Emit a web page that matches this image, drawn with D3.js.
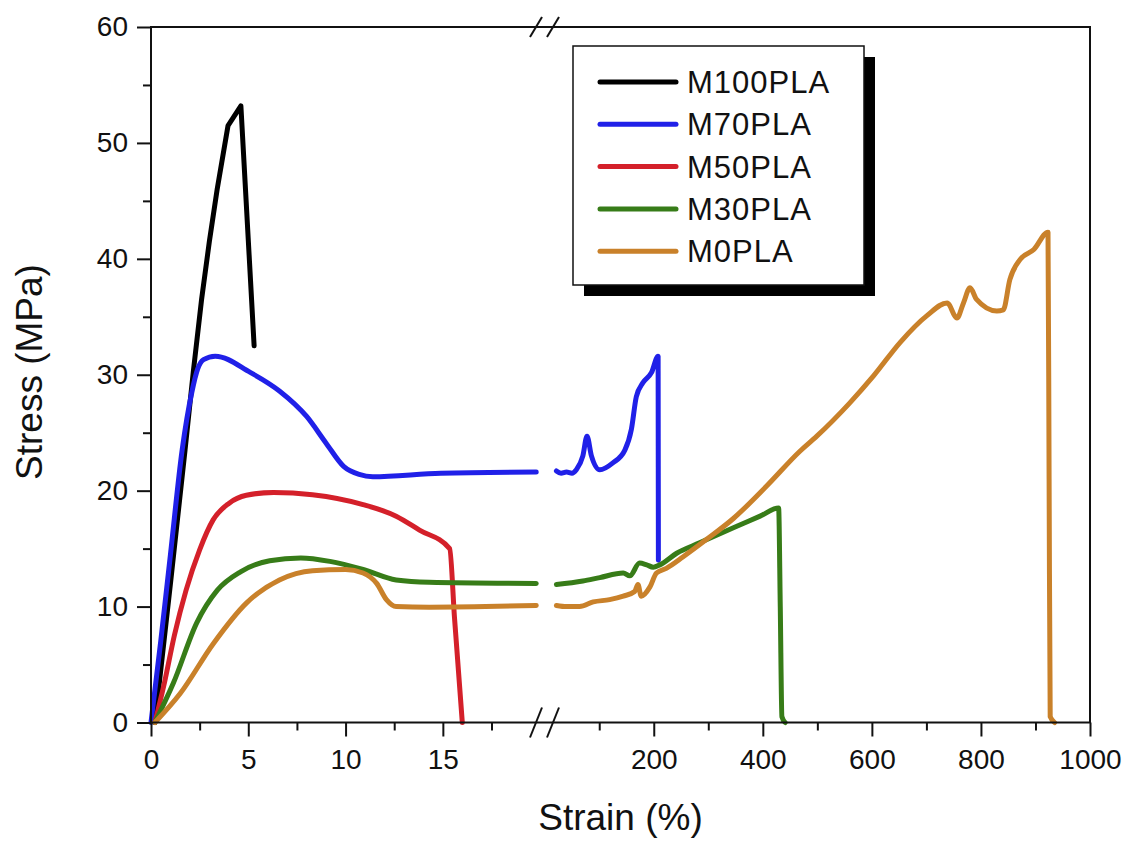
<!DOCTYPE html>
<html>
<head>
<meta charset="utf-8">
<script src="https://cdn.jsdelivr.net/npm/d3@7"></script>
<style>
  body { margin: 0; background: #fff; }
  text { font-family: "Liberation Sans", Arial, sans-serif; fill: #111; }
</style>
</head>
<body>
<svg id="chart" width="1134" height="843"></svg>
<script>
// stress-strain curves, [strain %, stress MPa]
var m100 = [[0.2,0],[1.0,12],[1.75,23.5],[2.17,30.2],[2.6,36.5],[3.0,41.5],[3.4,46],[3.96,51.5],[4.62,53.2],[5.3,32.5]];
var m70 = [[0,0],[0.5,7],[1.0,14.5],[1.6,23.5],[2.1,28.5],[2.4,30.5],[2.7,31.3],[3.3,31.6],[5.1,30.2],
  [6.6,28.6],[8.0,26.4],[9.0,24.1],[9.9,22.1],[10.7,21.4],[11.4,21.2],[14.9,21.5],[19.8,21.6],
  [21.5,21.7],[30,21.5],[40,21.6],[50,21.5],[58,21.8],[70,23.0],[77.6,24.7],[85.7,23.0],[101,21.8],
  [125,22.4],[147,23.5],[159,25.3],[168,28.1],[180,29.3],[196,30.2],[208,31.6],[208.5,14.0]];
var m50 = [[0.2,0],[0.7,3.5],[1.2,7.5],[1.8,11.4],[2.5,14.9],[3.2,17.5],[4.0,18.9],[4.9,19.6],[6.3,19.85],
  [8.3,19.65],[10.9,18.8],[12.6,17.8],[13.8,16.6],[15.35,15.0],[15.6,9],[16.0,0]];
var m30 = [[0.2,0],[1.15,3.4],[2.35,8.6],[3.4,11.4],[4.6,13.0],[6.1,13.95],[7.7,14.2],[9.2,13.9],[10.9,13.2],
  [12.6,12.3],[14.3,12.1],[19.8,12.0],
  [21.5,11.9],[70,12.2],[101,12.5],[144,12.9],[156,12.65],[174,13.75],[187,13.6],[199,13.4],[211,13.6],
  [242,14.6],[284,15.5],[346,16.8],[395,17.8],[429,18.5],[432,10],[435,0.5],[441,0]];
var m0 = [[0.2,0],[1.5,2.5],[3.2,6.8],[4.9,10.3],[6.6,12.3],[8.3,13.1],[10.0,13.2],[10.9,12.9],[11.6,12.0],
  [12.1,10.6],[12.6,10.0],[14.3,9.95],[19.8,10.1],
  [21.5,10.1],[40,10.0],[64,10.0],[89,10.4],[119,10.6],[144,10.9],[165,11.3],[171,11.9],[177,10.9],
  [193,11.7],[205,12.9],[223,13.3],[254,14.3],[297,15.8],[346,17.6],[407,20.4],[468,23.4],[499,24.7],
  [560,27.6],[603,29.9],[652,32.8],[701,35.1],[738,36.2],[756,34.9],[768,36.2],[780,37.5],[792,36.5],
  [829,35.5],[841,35.6],[853,38.2],[872,39.95],[897,40.8],[923,42.3],[925,21],[927,0.5],[935,0]];

var names = ["M100PLA","M70PLA","M50PLA","M30PLA","M0PLA"];
var colors = ["#000000","#2020e8","#d4202a","#377c18","#c9812a"];
var curves = [m100, m70, m50, m30, m0];
var smooth = [false, true, true, true, true]; // M100 is a sharp linear trace

var yMajor = [0,10,20,30,40,50,60], yMinor = [5,15,25,35,45,55];
var xLeftMajor = [0,5,10,15], xLeftMinor = [2.5,7.5,12.5,17.5];
var xRightMajor = [200,400,600,800,1000], xRightMinor = [100,300,500,700,900];
var BRK = 20.1; // axis break

var svg = d3.select("#chart");
var xL = d3.scaleLinear().domain([0, 20.25]).range([151, 545]),
    xR = d3.scaleLinear().domain([0, 1000]).range([544.7, 1090]),
    y = d3.scaleLinear().domain([0, 60]).range([722.5, 27]);
var x0 = xL.range()[0], x1 = xR.range()[1], yb = y.range()[0], yt = y.range()[1];

var mkLine = (sx, s) => d3.line().x(d=>sx(d[0])).y(d=>y(d[1]))
    .curve(s ? d3.curveMonotoneX : d3.curveLinear);

// curves
var gc = svg.append("g").attr("fill","none").attr("stroke-width",5)
    .attr("stroke-linejoin","round").attr("stroke-linecap","round");
curves.forEach(function (c, i) {
    var l = c.filter(d=>d[0] < BRK), r = c.filter(d=>d[0] >= BRK);
    gc.append("path").attr("stroke",colors[i]).attr("d",mkLine(xL,smooth[i])(l));
    if (r.length) gc.append("path").attr("stroke",colors[i]).attr("d",mkLine(xR,smooth[i])(r));
});

// frame
svg.append("rect").attr("x",x0).attr("y",yt).attr("width",x1-x0).attr("height",yb-yt)
    .attr("fill","none").attr("stroke","#111").attr("stroke-width",2);

// axes
function axis(a, tr) {
    var g = svg.append("g").attr("transform",tr).call(a);
    g.select(".domain").remove();
    g.selectAll("line").attr("stroke","#111").attr("stroke-width",2);
    g.selectAll("text").style("font-size","28px").attr("fill","#111");
    return g;
}
var fmt = d3.format("d");
var yt0 = "translate("+x0+",0)", xb = "translate(0,"+yb+")";
axis(d3.axisLeft(y).tickValues(yMajor).tickSize(14).tickPadding(9).tickFormat(fmt), yt0);
axis(d3.axisLeft(y).tickValues(yMinor).tickSize(8).tickFormat(""), yt0);
axis(d3.axisBottom(xL).tickValues(xLeftMajor).tickSize(14).tickPadding(13).tickFormat(fmt), xb);
axis(d3.axisBottom(xL).tickValues(xLeftMinor).tickSize(8).tickFormat(""), xb);
axis(d3.axisBottom(xR).tickValues(xRightMajor).tickSize(14).tickPadding(13).tickFormat(fmt), xb);
axis(d3.axisBottom(xR).tickValues(xRightMinor).tickSize(8).tickFormat(""), xb);

// break marks
var bx = xL.range()[1];
[[yt,10],[yb,15]].forEach(function (b) {
    [bx-9, bx+8].forEach(function (cx) {
        svg.append("line").attr("x1",cx-6).attr("y1",b[0]+b[1]).attr("x2",cx+6).attr("y2",b[0]-b[1])
            .attr("stroke","#111").attr("stroke-width",2);
    });
});

// titles
svg.append("text").attr("x",(x0+x1)/2).attr("y",830).attr("text-anchor","middle")
    .style("font-size","37px").text("Strain (%)");
svg.append("text").attr("transform","translate(42,372) rotate(-90)").attr("text-anchor","middle")
    .style("font-size","37px").text("Stress (MPa)");

// legend
var lg = svg.append("g").attr("transform","translate(573,46)");
lg.append("rect").attr("x",11).attr("y",11).attr("width",291).attr("height",239).attr("fill","#000");
lg.append("rect").attr("width",291).attr("height",239).attr("fill","#fff")
    .attr("stroke","#111").attr("stroke-width",1.5);
var row = lg.selectAll("g.row").data(names).enter().append("g")
    .attr("transform",(_,i)=>"translate(0,"+(36+i*42.3)+")");
row.append("line").attr("x1",27).attr("x2",103).attr("stroke",(_,i)=>colors[i])
    .attr("stroke-width",5).attr("stroke-linecap","round");
row.append("text").attr("x",114).attr("dy","0.36em").style("font-size","31px")
    .style("letter-spacing","1px").text(d=>d);
</script>
</body>
</html>
